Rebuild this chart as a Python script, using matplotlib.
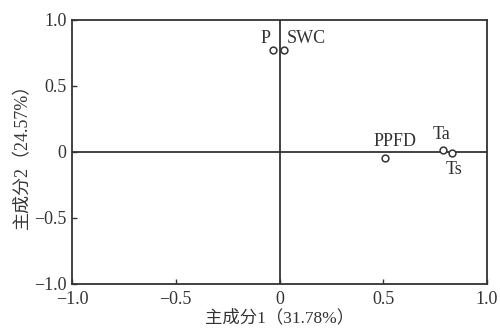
import matplotlib
matplotlib.use("Agg")
import matplotlib.pyplot as plt

names = ["P", "SWC", "PPFD", "Ta", "Ts"]
pc1 = [-0.033, 0.022, 0.508, 0.787, 0.833]
pc2 = [0.773, 0.773, -0.045, 0.018, -0.010]
ticks = [-1.0, -0.5, 0, 0.5, 1.0]
tick_labels = ["\u22121.0", "\u22120.5", "0", "0.5", "1.0"]
xlabel = "主成分1（31.78%）"
ylabel = "主成分2（24.57%）"

plt.rcParams['font.family'] = ['Liberation Serif', 'Noto Sans CJK SC']
col = '#333333'

fig = plt.figure(figsize=(5, 3.3), dpi=100)
ax = fig.add_axes([72/500, 1-284/330, (487-72)/500, (284-20)/330])
ax.set_xlim(-1, 1)
ax.set_ylim(-1, 1)
ax.axhline(0, color=col, lw=1.3)
ax.axvline(0, color=col, lw=1.3)
ax.scatter(pc1, pc2, s=24, facecolors='white', edgecolors=col, linewidths=1.1, zorder=3)

# offsets in points (dx, dy) from marker to text lower-left
offsets = {"P": (-9, 2), "SWC": (2, 2), "PPFD": (-8.5, 6),
           "Ta": (-7.5, 4.5), "Ts": (-5, -18)}
for n, x, y in zip(names, pc1, pc2):
    dx, dy = offsets[n]
    ax.annotate(n, (x, y), xytext=(dx, dy), textcoords='offset points',
                ha='left', va='bottom', fontsize=13, color=col, family='Liberation Serif')

ax.set_xticks(ticks)
ax.set_xticklabels(tick_labels)
ax.set_yticks(ticks)
ax.set_yticklabels(tick_labels)
ax.tick_params(direction='in', length=3.5, width=1, colors=col, labelsize=13, labelcolor=col)
ax.tick_params(axis='x', pad=5)
ax.tick_params(axis='y', pad=4)
for s in ax.spines.values():
    s.set_color(col)
    s.set_linewidth(1.3)
ax.set_xlabel(xlabel, fontsize=12.5, color=col, labelpad=1)
ax.set_ylabel(ylabel, fontsize=13, color=col, labelpad=2)
fig.savefig("out.png", dpi=100)
